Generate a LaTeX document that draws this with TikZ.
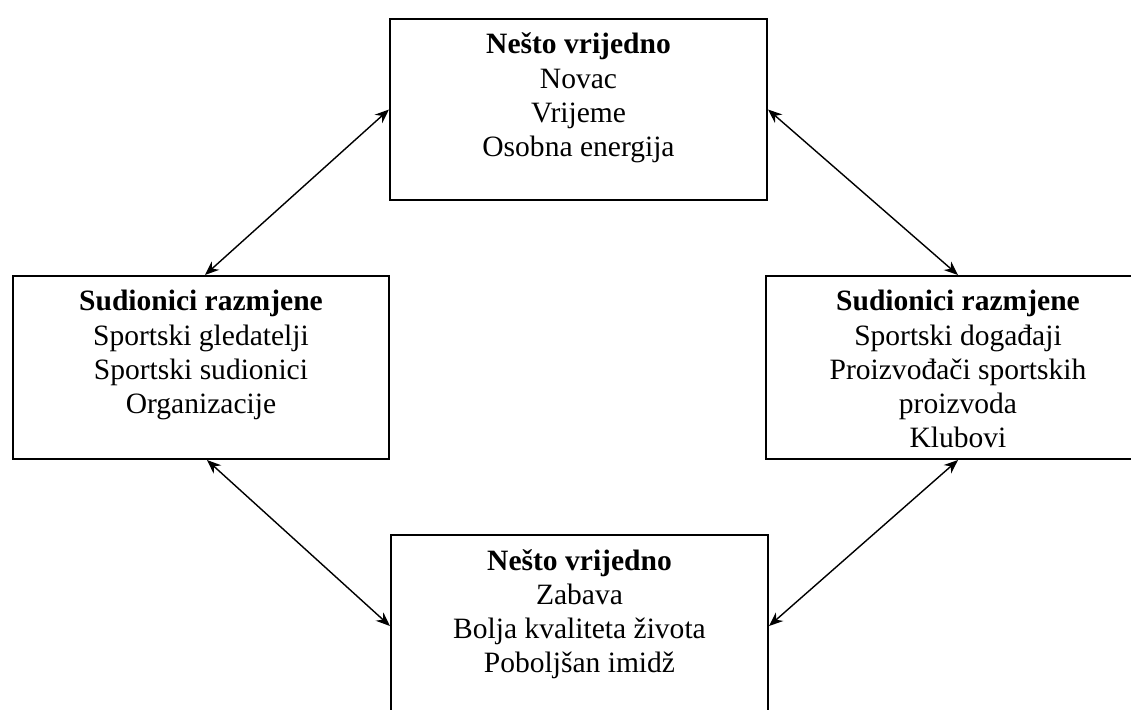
\documentclass[tikz,border=0pt]{standalone}
\usepackage{fontspec}
\setmainfont{Liberation Serif}
\usetikzlibrary{arrows.meta, positioning}

\newcommand{\sadrzaj}[3]{\parbox[t][#2][t]{#1}{\centering\rule{0pt}{0.875cm}#3}}

\begin{document}
\begin{tikzpicture}[x=0.025cm, y=-0.025cm, >={Stealth[length=10pt,width=8pt]},
                    line width=1pt, font=\fontsize{21}{24.2}\selectfont]
   \tikzstyle{okvir}=[draw=black, line width=1.4pt, inner sep=0pt, anchor=north]

   \useasboundingbox (0,0) rectangle (1131,710);
   \clip (0,0) rectangle (1131,710);

   \node[okvir] (vrijedno1) at (578.5,18)
      {\sadrzaj{9.425cm}{4.525cm}{\textbf{Nešto vrijedno}\\ Novac\\ Vrijeme\\ Osobna energija}};
   \node[okvir] (sudionici1) at (201,275)
      {\sadrzaj{9.4cm}{4.575cm}{\textbf{Sudionici razmjene}\\ Sportski gledatelji\\ Sportski sudionici\\ Organizacije}};
   \node[okvir] (sudionici2) at (958,275)
      {\sadrzaj{9.6cm}{4.575cm}{\textbf{Sudionici razmjene}\\ Sportski događaji\\ Proizvođači sportskih\\ proizvoda\\ Klubovi}};
   \node[okvir] (vrijedno2) at (579.5,534)
      {\sadrzaj{9.425cm}{4.55cm}{\textbf{Nešto vrijedno}\\ Zabava\\ Bolja kvaliteta života\\ Poboljšan imidž}};

   \path[<->] (vrijedno1.west)  edge ([xshift=0.1cm]sudionici1.north)
              (vrijedno1.east)  edge (sudionici2.north)
              ([xshift=0.15cm]sudionici1.south) edge (vrijedno2.west)
              (sudionici2.south) edge (vrijedno2.east);
\end{tikzpicture}
\end{document}
